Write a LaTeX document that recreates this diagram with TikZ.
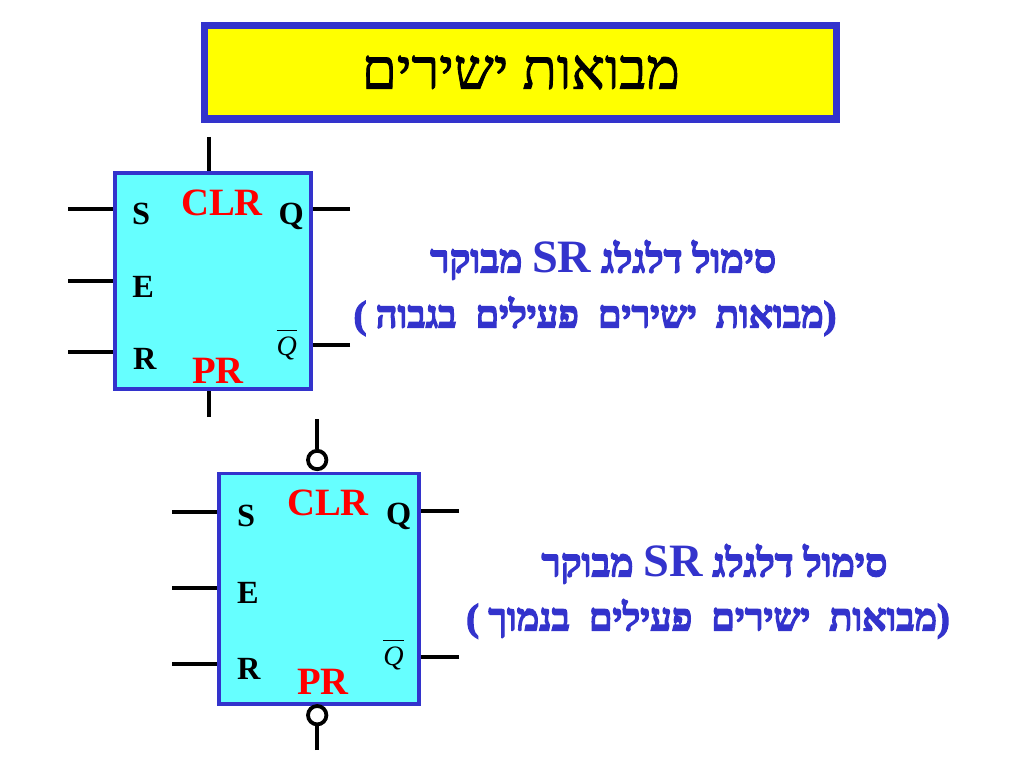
\documentclass[tikz,border=0pt]{standalone}
\usepackage{fontspec}
\setmainfont{Liberation Serif}
\newfontfamily\hebfont[Script=Hebrew,FakeBold=1.5]{Liberation Serif}
\newfontfamily\hebbold[Script=Hebrew,FakeBold=3.5]{Liberation Serif Bold}
\TeXXeTstate=1
\usepackage{tikz}
\usetikzlibrary{positioning}
\definecolor{ffblue}{RGB}{51,51,204}
\definecolor{ffcyan}{RGB}{102,255,255}
\definecolor{ffyellow}{RGB}{255,255,0}
\definecolor{ffred}{RGB}{255,0,0}
\newcommand{\srname}{\beginL{\rmfamily\bfseries\fontsize{33}{33}\selectfont SR}\endL{}}
\newcommand{\qbar}{$\overline{\rule{0pt}{17pt}\textit{Q}}$}
\tikzset{
  ffbox/.style={draw=ffblue,fill=ffcyan,line width=2.5pt,inner sep=0pt},
  pin/.style={line width=2.7pt,black},
  bubble/.style={circle,draw=black,fill=white,line width=2.7pt,inner sep=0pt,minimum size=0.46cm},
  portlab/.style={font=\bfseries\fontsize{23}{23}\selectfont,black},
  barlab/.style={font=\fontsize{20}{20}\selectfont,black},
  ctllab/.style={font=\bfseries\fontsize{27.5}{27.5}\selectfont,ffred},
  heblab/.style={font=\hebbold\fontsize{27.8}{30}\selectfont,text=ffblue},
  heblabb/.style={font=\hebbold\fontsize{27}{30}\selectfont,text=ffblue}
}
\begin{document}
\begin{tikzpicture}[x=1cm,y=1cm]
   \useasboundingbox (0,0) rectangle (25.6,-19.2);
   % title
   \node (title) [draw=ffblue,fill=ffyellow,line width=5pt,minimum width=15.8cm,minimum height=2.33cm,inner sep=0pt,
     font=\hebfont\fontsize{40}{40}\selectfont] at (13.02,-1.81) {\beginR מבואות ישירים\endR};
   % upper flip-flop
   \node (ffa) [ffbox,minimum width=4.9cm,minimum height=5.4cm] at (5.325,-7.025) {};
   \node (as) [portlab] at (3.53,-5.36) {S};
   \node (ae) [portlab] at (3.58,-7.18) {E};
   \node (ar) [portlab] at (3.62,-8.98) {R};
   \node (aq) [portlab] at (7.28,-5.4) {Q};
   \node (anq) [barlab] at (7.17,-8.62) {\qbar};
   \node (aclr) [ctllab] at (5.55,-5.08) {CLR};
   \node (apr) [ctllab] at (5.45,-9.28) {PR};
   \coordinate (ain1) at (1.7,-5.22);
   \coordinate (ain2) at (1.7,-7.03);
   \coordinate (ain3) at (1.7,-8.8);
   \coordinate (aout1) at (8.75,-5.22);
   \coordinate (aout2) at (8.75,-8.62);
   \coordinate (atop) at (5.225,-3.42);
   \coordinate (abot) at (5.225,-10.43);
   \draw [pin] (ain1) -- (ain1 -| ffa.west);
   \draw [pin] (ain2) -- (ain2 -| ffa.west);
   \draw [pin] (ain3) -- (ain3 -| ffa.west);
   \draw [pin] (aout1) -- (aout1 -| ffa.east);
   \draw [pin] (aout2) -- (aout2 -| ffa.east);
   \draw [pin] (atop) -- (atop |- ffa.north);
   \draw [pin] (abot) -- (abot |- ffa.south);
   \node (atxt) [heblab] at (15.08,-6.5) {\beginR סימול דלגלג \srname{} מבוקר\endR};
   \node (atxtb) [heblabb] at (14.875,-7.9) {\beginR (מבואות~~ישירים~~פעילים~~בגבוה )\endR};
   % lower flip-flop
   \node (ffb) [ffbox,minimum width=5cm,minimum height=5.76cm] at (7.98,-14.72) {};
   \node (bs) [portlab] at (6.15,-12.9) {S};
   \node (be) [portlab] at (6.2,-14.82) {E};
   \node (br) [portlab] at (6.22,-16.72) {R};
   \node (bq) [portlab] at (9.97,-12.92) {Q};
   \node (bnq) [barlab] at (9.84,-16.37) {\qbar};
   \node (bclr) [ctllab] at (8.2,-12.58) {CLR};
   \node (bpr) [ctllab] at (8.07,-17.05) {PR};
   \coordinate (bin1) at (4.3,-12.8);
   \coordinate (bin2) at (4.3,-14.7);
   \coordinate (bin3) at (4.3,-16.6);
   \coordinate (bout1) at (11.48,-12.78);
   \coordinate (bout2) at (11.48,-16.42);
   \node (bt) [bubble] at (7.93,-11.5) {};
   \node (bb) [bubble] at (7.93,-17.88) {};
   \coordinate (btop) at (7.93,-10.48);
   \coordinate (bbot) at (7.93,-18.75);
   \draw [pin] (bin1) -- (bin1 -| ffb.west);
   \draw [pin] (bin2) -- (bin2 -| ffb.west);
   \draw [pin] (bin3) -- (bin3 -| ffb.west);
   \draw [pin] (bout1) -- (bout1 -| ffb.east);
   \draw [pin] (bout2) -- (bout2 -| ffb.east);
   \draw [pin] (btop) -- (bt);
   \draw [pin] (bbot) -- (bb);
   \node (btxt) [heblab] at (17.86,-14.1) {\beginR סימול דלגלג \srname{} מבוקר\endR};
   \node (btxtb) [heblabb] at (17.7,-15.47) {\beginR (מבואות~~ישירים~~פעילים~~בנמוך )\endR};
\end{tikzpicture}
\end{document}
